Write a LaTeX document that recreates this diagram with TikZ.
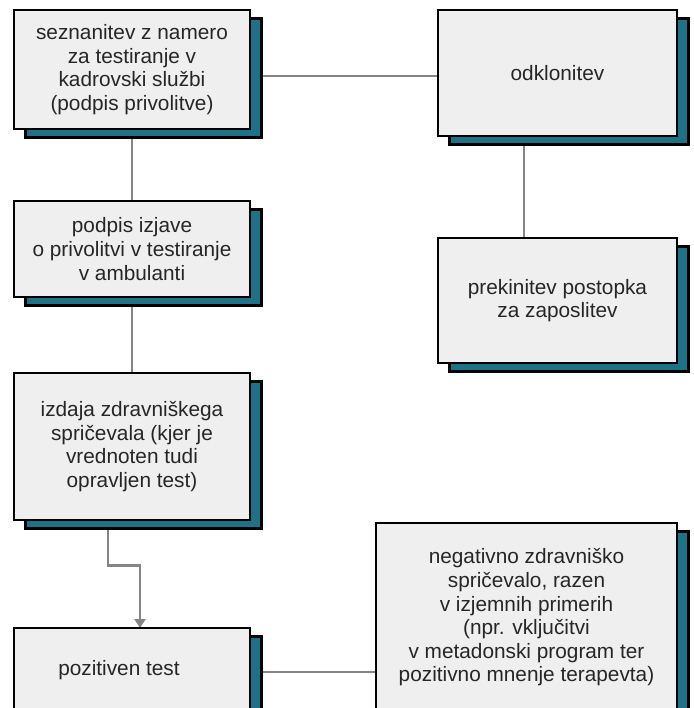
\documentclass[tikz,border=0pt]{standalone}
\usepackage{fontspec}
\setmainfont{Liberation Sans}
\usetikzlibrary{arrows.meta,positioning,shadows,backgrounds,calc}
\definecolor{boxgray}{HTML}{EFEFEF}
\definecolor{shteal}{HTML}{1E7186}
\definecolor{linkgray}{HTML}{858585}

\begin{document}
\begin{tikzpicture}[
  x=0.5pt, y=-0.5pt,
  font=\fontsize{10.4}{11.8}\selectfont, node distance=36pt,
  box/.style={draw=black, line width=1.3pt, fill=boxgray, text=black!85, align=center, inner sep=2pt, outer sep=0pt,
    minimum width=118pt,
    copy shadow={shadow xshift=5.75pt, shadow yshift=-4.25pt, fill=shteal, draw=black, line width=1.3pt}},
  link/.style={draw=linkgray, line width=1.2pt},
  flow/.style={link, -{Triangle[length=4.5pt, width=5.5pt]}}
]
\useasboundingbox (0,0) rectangle (694,708);
\clip (0,0) rectangle (694,708);

% left column
\node[box, minimum height=59.5pt] (intent) at (132,69.5) {seznanitev z namero\\za testiranje v\\kadrovski službi\\(podpis privolitve)};
\node[box, minimum height=48pt, below=36pt of intent] (consent) {podpis izjave\\o privolitvi v testiranje\\v ambulanti};
\node[box, minimum height=73.5pt, below=38pt of consent] (cert) {izdaja zdravniškega\\spričevala (kjer je\\vrednoten tudi\\opravljen test)};
\node[box, minimum height=42pt, below=54pt of cert] (positive) {pozitiven test\hspace*{13pt}};

% right column
\node[box, minimum width=119.5pt, minimum height=63pt, right=94pt of intent.north east, anchor=north west] (refuse) {odklonitev};
\node[box, minimum width=119.5pt, minimum height=62.5pt, below=51pt of refuse] (stop) {prekinitev postopka\\za zaposlitev};
\node[box, minimum width=150.5pt, minimum height=94.5pt, below=80pt of stop.south east, anchor=north east] (negative) {negativno zdravniško\\spričevalo, razen\\v izjemnih primerih\\(npr. vključitvi\\v metadonski program ter\\pozitivno mnenje terapevta)};

% connectors behind the boxes
\begin{scope}[on background layer]
  \coordinate (l1) at ([yshift=-3.25pt]intent.east);
  \draw[link] (l1) -- (l1 -| refuse.west);
  \draw[link] (intent) -- (consent);
  \draw[link] (consent) -- (cert);
  \coordinate (l2) at ([xshift=-16.75pt]refuse.south);
  \draw[link] (l2) -- (l2 |- stop.north);
  \coordinate (e1) at ([xshift=-12pt]cert.south);
  \coordinate (e2) at ([xshift=4pt]positive.north);
  \draw[flow] (e1) |- ($(e1)!0.42!(e2)$) -| (e2);
  \coordinate (l3) at ([yshift=-1pt]positive.east);
  \draw[link] (l3) -- (l3 -| negative.west);
\end{scope}
\end{tikzpicture}
\end{document}
